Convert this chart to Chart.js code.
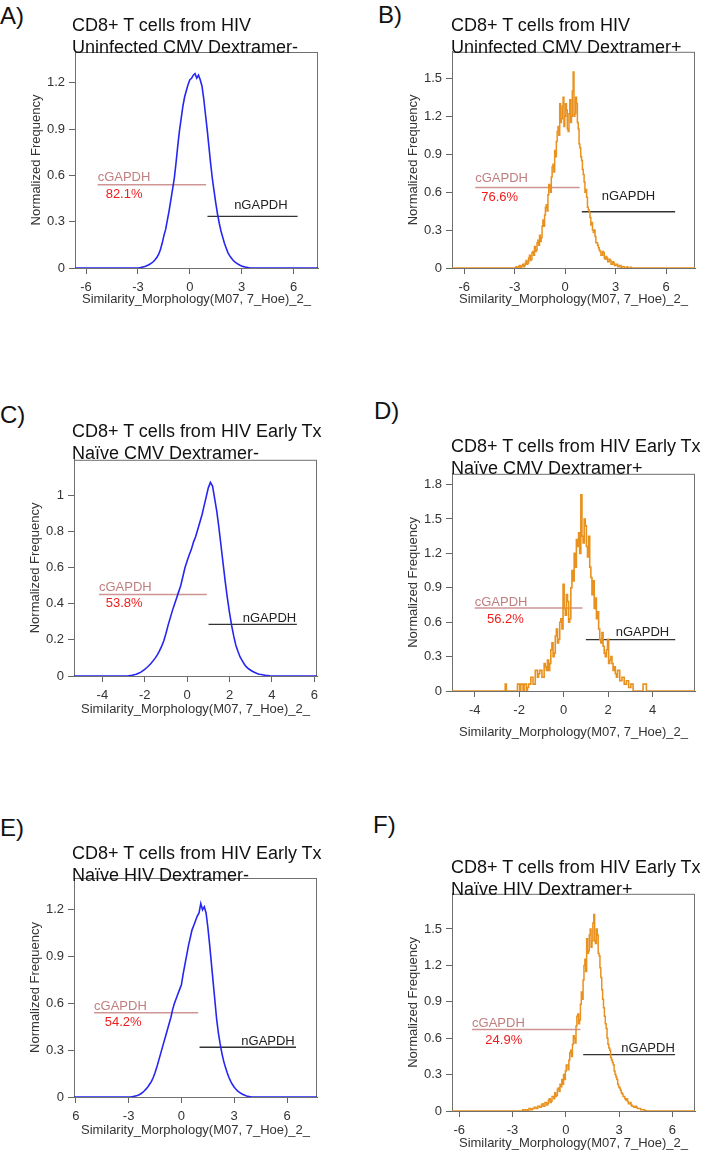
<!DOCTYPE html>
<html>
<head>
<meta charset="utf-8">
<script src="https://cdn.jsdelivr.net/npm/chart.js@4.4.1/dist/chart.umd.min.js"></script>
<style>
  body { margin: 0; background: #fff; width: 706px; height: 1152px; position: relative; overflow: hidden;
         font-family: "Liberation Sans", Arial, sans-serif; }
  canvas { position: absolute; }
  .letter { position: absolute; font-size: 24px; line-height: 26px; color: #111; }
  .ttl { position: absolute; font-size: 18px; line-height: 21.5px; color: #111; white-space: nowrap; }
</style>
</head>
<body>
<div class="letter" style="left:0px;top:3px">A)</div>
<div class="letter" style="left:378px;top:2px">B)</div>
<div class="letter" style="left:0px;top:402px">C)</div>
<div class="letter" style="left:374px;top:398px">D)</div>
<div class="letter" style="left:0px;top:815px">E)</div>
<div class="letter" style="left:373px;top:812px">F)</div>

<canvas id="chartA"></canvas>
<canvas id="chartB"></canvas>
<canvas id="chartC"></canvas>
<canvas id="chartD"></canvas>
<canvas id="chartE"></canvas>
<canvas id="chartF"></canvas>

<div class="ttl" style="left:72px;top:15px">CD8+ T cells from HIV<br>Uninfected CMV Dextramer-</div>
<div class="ttl" style="left:451px;top:15px">CD8+ T cells from HIV<br>Uninfected CMV Dextramer+</div>
<div class="ttl" style="left:72px;top:421px">CD8+ T cells from HIV Early Tx<br>Naïve CMV Dextramer-</div>
<div class="ttl" style="left:451px;top:436px">CD8+ T cells from HIV Early Tx<br>Naïve CMV Dextramer+</div>
<div class="ttl" style="left:72px;top:843px">CD8+ T cells from HIV Early Tx<br>Naïve HIV Dextramer-</div>
<div class="ttl" style="left:451px;top:857px">CD8+ T cells from HIV Early Tx<br>Naïve HIV Dextramer+</div>

<script>
// histogram values; blue panels use 0.1 bins, orange ones 0.05 bins

// A) uninfected, CMV dextramer-
const startA = -3.0, binA = 0.1;
const valuesA = [0, 0.002, 0.004, 0.007, 0.01, 0.015, 0.02, 0.026, 0.033, 0.042,
  0.055, 0.07, 0.09, 0.12, 0.16, 0.21, 0.25, 0.31, 0.37, 0.44,
  0.51, 0.58, 0.68, 0.79, 0.89, 0.97, 1.05, 1.11, 1.15, 1.19,
  1.22, 1.23, 1.25, 1.26, 1.23, 1.25, 1.22, 1.18, 1.1, 1.0,
  0.9, 0.79, 0.68, 0.58, 0.5, 0.42, 0.35, 0.29, 0.24, 0.2,
  0.16, 0.13, 0.1, 0.08, 0.065, 0.05, 0.04, 0.031, 0.024, 0.018,
  0.013, 0.009, 0.006, 0.004, 0.002, 0];

// B) uninfected, CMV dextramer+
const startB = -3.0, binB = 0.05;
const valuesB = [0, 0, 0.01, 0, 0, 0.01, 0.02, 0, 0.01, 0.02,
  0.03, 0.01, 0.02, 0.04, 0.06, 0.03, 0.04, 0.08, 0.1, 0.06,
  0.07, 0.12, 0.13, 0.1, 0.17, 0.13, 0.14, 0.2, 0.22, 0.18,
  0.26, 0.21, 0.24, 0.33, 0.38, 0.33, 0.42, 0.48, 0.5, 0.45,
  0.58, 0.66, 0.65, 0.6, 0.72, 0.8, 0.82, 0.76, 0.93, 0.88,
  1.0, 1.08, 1.12, 1.05, 1.3, 1.15, 1.18, 1.28, 1.35, 1.12,
  1.2, 1.3, 1.25, 1.1, 1.08, 1.22, 1.33, 1.15, 1.2, 1.4,
  1.55, 1.2, 1.22, 1.35, 1.3, 1.15, 1.1, 0.98, 0.95, 0.88,
  0.85, 0.78, 0.74, 0.68, 0.6, 0.62, 0.56, 0.48, 0.46, 0.44,
  0.4, 0.34, 0.36, 0.3, 0.28, 0.3, 0.25, 0.2, 0.2, 0.18,
  0.16, 0.14, 0.13, 0.1, 0.1, 0.13, 0.12, 0.08, 0.07, 0.09,
  0.08, 0.05, 0.05, 0.07, 0.06, 0.03, 0.03, 0.05, 0.04, 0.02,
  0.02, 0.03, 0.03, 0.01, 0.01, 0.02, 0.02, 0, 0.01, 0.01,
  0.01, 0, 0, 0, 0.01, 0, 0, 0, 0.005, 0, 0];

// C) early Tx naive, CMV dextramer-
const startC = -2.8, binC = 0.1;
const valuesC = [0, 0.002, 0.004, 0.007, 0.01, 0.015, 0.02, 0.028, 0.037, 0.047,
  0.058, 0.07, 0.085, 0.1, 0.118, 0.14, 0.165, 0.195, 0.235, 0.28,
  0.32, 0.36, 0.395, 0.43, 0.465, 0.5, 0.55, 0.6, 0.635, 0.67,
  0.7, 0.74, 0.77, 0.81, 0.85, 0.89, 0.94, 0.99, 1.04, 1.07,
  1.05, 0.98, 0.91, 0.82, 0.72, 0.62, 0.52, 0.43, 0.35, 0.28,
  0.22, 0.17, 0.135, 0.105, 0.085, 0.065, 0.05, 0.04, 0.032, 0.025,
  0.019, 0.014, 0.01, 0.008, 0.006, 0.004, 0.003, 0.001, 0];

// D) early Tx naive, CMV dextramer+
const startD = -2.7, binD = 0.05;
const valuesD = [0, 0, 0.06, 0, 0, 0, 0, 0, 0, 0,
  0, 0, 0, 0.06, 0.06, 0, 0.06, 0.06, 0, 0.06,
  0.06, 0, 0.03, 0.06, 0.06, 0.12, 0.12, 0.06, 0.06, 0.18,
  0.18, 0.12, 0.15, 0.18, 0.18, 0.12, 0.12, 0.24, 0.21, 0.18,
  0.27, 0.18, 0.24, 0.36, 0.42, 0.3, 0.33, 0.48, 0.54, 0.42,
  0.45, 0.6, 0.63, 0.54, 0.93, 0.72, 0.66, 0.84, 0.78, 0.6,
  0.63, 0.9, 1.05, 0.96, 1.2, 1.08, 1.32, 1.26, 1.38, 1.2,
  1.71, 1.35, 1.29, 1.5, 1.44, 1.26, 1.17, 1.35, 1.08, 0.99,
  0.84, 0.96, 0.72, 0.81, 0.63, 0.69, 0.54, 0.45, 0.42, 0.51,
  0.39, 0.33, 0.3, 0.36, 0.45, 0.24, 0.27, 0.3, 0.24, 0.18,
  0.21, 0.15, 0.12, 0.18, 0.18, 0.09, 0.09, 0.12, 0.12, 0.06,
  0.06, 0.09, 0.09, 0.03, 0.03, 0.06, 0.06, 0, 0, 0,
  0, 0, 0, 0, 0, 0, 0.06, 0.06, 0.06, 0,
  0, 0, 0, 0, 0];

// E) early Tx naive, HIV dextramer-
const startE = -2.9, binE = 0.1;
const valuesE = [0, 0.002, 0.004, 0.007, 0.01, 0.015, 0.021, 0.03, 0.04, 0.052,
  0.066, 0.083, 0.1, 0.125, 0.155, 0.19, 0.23, 0.27, 0.31, 0.35,
  0.39, 0.43, 0.47, 0.51, 0.56, 0.6, 0.63, 0.66, 0.69, 0.72,
  0.79, 0.85, 0.91, 0.97, 1.02, 1.07, 1.1, 1.13, 1.16, 1.18,
  1.24, 1.2, 1.22, 1.18, 1.09, 0.98, 0.86, 0.74, 0.62, 0.5,
  0.41, 0.34, 0.28, 0.23, 0.19, 0.155, 0.125, 0.1, 0.08, 0.063,
  0.05, 0.038, 0.03, 0.022, 0.016, 0.011, 0.007, 0.004, 0.002, 0];

// F) early Tx naive, HIV dextramer+
const startF = -2.5, binF = 0.05;
const valuesF = [0, 0, 0.01, 0, 0, 0.01, 0.01, 0, 0, 0.02,
  0.02, 0.01, 0.01, 0.02, 0.02, 0.03, 0.03, 0.02, 0.02, 0.04,
  0.04, 0.03, 0.03, 0.05, 0.06, 0.04, 0.04, 0.07, 0.07, 0.05,
  0.06, 0.09, 0.1, 0.07, 0.08, 0.12, 0.12, 0.1, 0.15, 0.12,
  0.13, 0.18, 0.19, 0.16, 0.22, 0.2, 0.26, 0.22, 0.3, 0.26,
  0.33, 0.38, 0.38, 0.34, 0.42, 0.48, 0.5, 0.45, 0.55, 0.62,
  0.6, 0.56, 0.7, 0.78, 0.8, 0.72, 0.75, 0.88, 0.98, 0.92,
  1.08, 1.2, 1.25, 1.15, 1.42, 1.3, 1.32, 1.45, 1.5, 1.35,
  1.4, 1.55, 1.62, 1.4, 1.38, 1.5, 1.45, 1.3, 1.28, 1.18,
  1.1, 1.0, 0.92, 0.85, 0.78, 0.72, 0.68, 0.6, 0.55, 0.52,
  0.5, 0.44, 0.42, 0.4, 0.38, 0.33, 0.3, 0.28, 0.26, 0.22,
  0.2, 0.19, 0.17, 0.15, 0.14, 0.12, 0.12, 0.1, 0.09, 0.1,
  0.08, 0.06, 0.06, 0.07, 0.05, 0.04, 0.04, 0.03, 0.03, 0.04,
  0.03, 0.02, 0.02, 0.02, 0.02, 0.01, 0.01, 0.01, 0.01, 0.005,
  0.005, 0, 0];

// axis ranges and ticks
const xRangeA = [-6.64, 7.41], yMaxA = 1.40;
const xRangeB = [-6.73, 7.72], yMaxB = 1.71;
const xRangeC = [-5.34, 6.13], yMaxC = 1.195;
const xRangeD = [-5.02, 5.91], yMaxD = 1.894;
const xRangeE = [-6.1, 7.7], yMaxE = 1.404;
const xRangeF = [-6.41, 7.28], yMaxF = 1.79;

const xTicks6 = [-6, -3, 0, 3, 6];
const xLabels6 = ["-6", "-3", "0", "3", "6"];
const xLabelsE = ["6", "-3", "0", "3", "6"];
const xTicksC = [-4, -2, 0, 2, 4, 6];
const xLabelsC = ["-4", "-2", "0", "2", "4", "6"];
const xTicksD = [-4, -2, 0, 2, 4];
const xLabelsD = ["-4", "-2", "0", "2", "4"];

const yTicks12 = [0, 0.3, 0.6, 0.9, 1.2];
const yLabels12 = ["0", "0.3", "0.6", "0.9", "1.2"];
const yTicks15 = [0, 0.3, 0.6, 0.9, 1.2, 1.5];
const yLabels15 = ["0", "0.3", "0.6", "0.9", "1.2", "1.5"];
const yTicksC = [0, 0.2, 0.4, 0.6, 0.8, 1];
const yLabelsC = ["0", "0.2", "0.4", "0.6", "0.8", "1"];
const yTicksD = [0, 0.3, 0.6, 0.9, 1.2, 1.5, 1.8];
const yLabelsD = ["0", "0.3", "0.6", "0.9", "1.2", "1.5", "1.8"];

// gates: [from x, to x, level]
const cGateA = [-5.33, 0.94, 0.54], nGateA = [1.02, 6.23, 0.334], pctA = "82.1%";
const cGateB = [-5.35, 0.86, 0.637], nGateB = [0.99, 6.54, 0.445], pctB = "76.6%";
const cGateC = [-4.16, 0.93, 0.45], nGateC = [1.01, 5.18, 0.285], pctC = "53.8%";
const cGateD = [-4.0, 0.85, 0.723], nGateD = [1.0, 5.02, 0.448], pctD = "56.2%";
const cGateE = [-4.96, 0.95, 0.54], nGateE = [1.03, 6.51, 0.319], pctE = "54.2%";
const cGateF = [-5.28, 0.83, 0.671], nGateF = [0.98, 6.16, 0.465], pctF = "24.9%";

const BLUE = "#2626f2";
const ORANGE = "#e8911f";
const FONT = '"Liberation Sans", Arial, sans-serif';
Chart.defaults.font.family = FONT;

// frame + gate labels
const gatePlugin = {
  id: "gates",
  beforeDatasetsDraw(chart) {
    const a = chart.chartArea, ctx = chart.ctx;
    ctx.save();
    ctx.strokeStyle = "#707070";
    ctx.lineWidth = 1;
    ctx.strokeRect(a.left + 0.5, a.top + 0.5, a.right - a.left - 1, a.bottom - a.top);
    ctx.restore();
  },
  afterDatasetsDraw(chart, args, o) {
    const ctx = chart.ctx, x = chart.scales.x, y = chart.scales.y;
    ctx.save();
    ctx.font = "13px " + FONT;
    const cx = x.getPixelForValue(o.c[0]), cy = y.getPixelForValue(o.c[2]);
    ctx.textAlign = "left";
    ctx.textBaseline = "alphabetic";
    ctx.fillStyle = "#c07f7f";
    ctx.fillText("cGAPDH", cx, cy - o.cUp);
    ctx.fillStyle = "#f01c1c";
    ctx.textBaseline = "middle";
    ctx.fillText(o.pct, cx + o.pctDx, cy + o.pctDown);
    const nx = x.getPixelForValue(o.n[1]), ny = y.getPixelForValue(o.n[2]);
    ctx.textAlign = "right";
    ctx.textBaseline = "alphabetic";
    ctx.fillStyle = "#222";
    ctx.fillText("nGAPDH", nx - o.nGap, ny - o.nUp);
    ctx.restore();
  }
};

function makePanel(id, p) {
  const canvas = document.getElementById(id);
  const h = p.box[3] + p.xAxisH + 2 - p.top;
  canvas.width = 353;
  canvas.height = h;
  canvas.style.left = p.left + "px";
  canvas.style.top = p.top + "px";

  const hist = p.values.map((v, i) => ({ x: +(p.start + i * p.bin).toFixed(3), y: v }));
  const curve = [{ x: p.xRange[0], y: 0 }, ...hist, { x: p.xRange[1], y: 0 }];

  return new Chart(canvas, {
    type: "line",
    data: {
      datasets: [
        { data: curve, borderColor: p.color, borderWidth: p.lw, stepped: p.stepped, tension: 0,
          pointRadius: 0, fill: false },
        { data: [{ x: p.cGate[0], y: p.cGate[2] }, { x: p.cGate[1], y: p.cGate[2] }],
          borderColor: "#cf9595", borderWidth: 1.5, pointRadius: 0 },
        { data: [{ x: p.nGate[0], y: p.nGate[2] }, { x: p.nGate[1], y: p.nGate[2] }],
          borderColor: "#333", borderWidth: 1.3, pointRadius: 0 }
      ]
    },
    options: {
      responsive: false,
      animation: false,
      devicePixelRatio: 1,
      layout: {
        padding: {
          left: p.box[0] - p.left - 75,
          top: p.box[1] - p.top,
          right: p.left + 353 - p.box[2],
          bottom: p.top + h - p.box[3] - p.xAxisH
        }
      },
      plugins: {
        legend: { display: false },
        tooltip: { enabled: false },
        gates: { c: p.cGate, n: p.nGate, pct: p.pct, cUp: p.cUp, pctDx: p.pctDx, pctDown: p.pctDown, nGap: p.nGap, nUp: p.nUp }
      },
      scales: {
        x: {
          type: "linear",
          min: p.xRange[0],
          max: p.xRange[1],
          afterFit: s => { s.height = p.xAxisH; },
          afterBuildTicks: s => { s.ticks = p.xTicks.map(v => ({ value: v })); },
          ticks: { callback: (v, i) => p.xLabels[i], color: "#333", font: { size: 13 }, padding: 6, maxRotation: 0, autoSkip: false },
          grid: { drawOnChartArea: false, tickLength: 6, color: "#666" },
          border: { color: "#666" },
          title: { display: true, text: "Similarity_Morphology(M07, 7_Hoe)_2_", color: "#333",
                   font: { size: 13 }, padding: { top: 0, bottom: p.xTitlePad } }
        },
        y: {
          type: "linear",
          min: 0,
          max: p.yMax,
          afterFit: s => { s.width = 75; },
          afterBuildTicks: s => { s.ticks = p.yTicks.map(v => ({ value: v })); },
          ticks: { callback: (v, i) => p.yLabels[i], color: "#333", font: { size: 13 }, padding: 4, autoSkip: false },
          grid: { drawOnChartArea: false, tickLength: 6, color: "#666" },
          border: { color: "#666" },
          title: { display: true, text: "Normalized Frequency", color: "#333",
                   font: { size: 13 }, padding: { top: 29, bottom: 0 } }
        }
      }
    },
    plugins: [gatePlugin]
  });
}

makePanel("chartA", { left: 0, top: 40, box: [75, 52, 318, 268], xAxisH: 44, xTitlePad: 5.2,
  start: startA, bin: binA, values: valuesA, color: BLUE, lw: 1.6, stepped: false, xRange: xRangeA, yMax: yMaxA,
  xTicks: xTicks6, xLabels: xLabels6, yTicks: yTicks12, yLabels: yLabels12,
  cGate: cGateA, nGate: nGateA, pct: pctA, cUp: 3.3, pctDx: 8, pctDown: 9.5, nGap: 10, nUp: 7.4 });

makePanel("chartB", { left: 353, top: 40, box: [452, 51, 695, 268], xAxisH: 44, xTitlePad: 5.2,
  start: startB, bin: binB, values: valuesB, color: ORANGE, lw: 1.5, stepped: "middle", xRange: xRangeB, yMax: yMaxB,
  xTicks: xTicks6, xLabels: xLabels6, yTicks: yTicks15, yLabels: yLabels15,
  cGate: cGateB, nGate: nGateB, pct: pctB, cUp: 5.6, pctDx: 6, pctDown: 10.4, nGap: 20, nUp: 11.7 });

makePanel("chartC", { left: 0, top: 448, box: [74, 459, 317, 676], xAxisH: 44, xTitlePad: 3.2,
  start: startC, bin: binC, values: valuesC, color: BLUE, lw: 1.6, stepped: false, xRange: xRangeC, yMax: yMaxC,
  xTicks: xTicksC, xLabels: xLabelsC, yTicks: yTicksC, yLabels: yLabelsC,
  cGate: cGateC, nGate: nGateC, pct: pctC, cUp: 3.3, pctDx: 6.7, pctDown: 9, nGap: 0.7, nUp: 2 });

makePanel("chartD", { left: 353, top: 462, box: [452, 473, 695, 691], xAxisH: 52, xTitlePad: 3.2,
  start: startD, bin: binD, values: valuesD, color: ORANGE, lw: 1.6, stepped: "middle", xRange: xRangeD, yMax: yMaxD,
  xTicks: xTicksD, xLabels: xLabelsD, yTicks: yTicksD, yLabels: yLabelsD,
  cGate: cGateD, nGate: nGateD, pct: pctD, cUp: 2.3, pctDx: 12.3, pctDown: 11, nGap: 6, nUp: 4 });

makePanel("chartE", { left: 0, top: 866, box: [74, 878, 317, 1097], xAxisH: 44, xTitlePad: 3.2,
  start: startE, bin: binE, values: valuesE, color: BLUE, lw: 1.6, stepped: false, xRange: xRangeE, yMax: yMaxE,
  xTicks: xTicks6, xLabels: xLabelsE, yTicks: yTicks12, yLabels: yLabels12,
  cGate: cGateE, nGate: nGateE, pct: pctE, cUp: 3, pctDx: 10.7, pctDown: 9.3, nGap: 1.3, nUp: 2.7 });

makePanel("chartF", { left: 353, top: 882, box: [452, 893, 695, 1111], xAxisH: 40, xTitlePad: 0.2,
  start: startF, bin: binF, values: valuesF, color: ORANGE, lw: 1.5, stepped: "middle", xRange: xRangeF, yMax: yMaxF,
  xTicks: xTicks6, xLabels: xLabels6, yTicks: yTicks15, yLabels: yLabels15,
  cGate: cGateF, nGate: nGateF, pct: pctF, cUp: 2.3, pctDx: 13.3, pctDown: 11, nGap: 0.3, nUp: 2.3 });
</script>
</body>
</html>
